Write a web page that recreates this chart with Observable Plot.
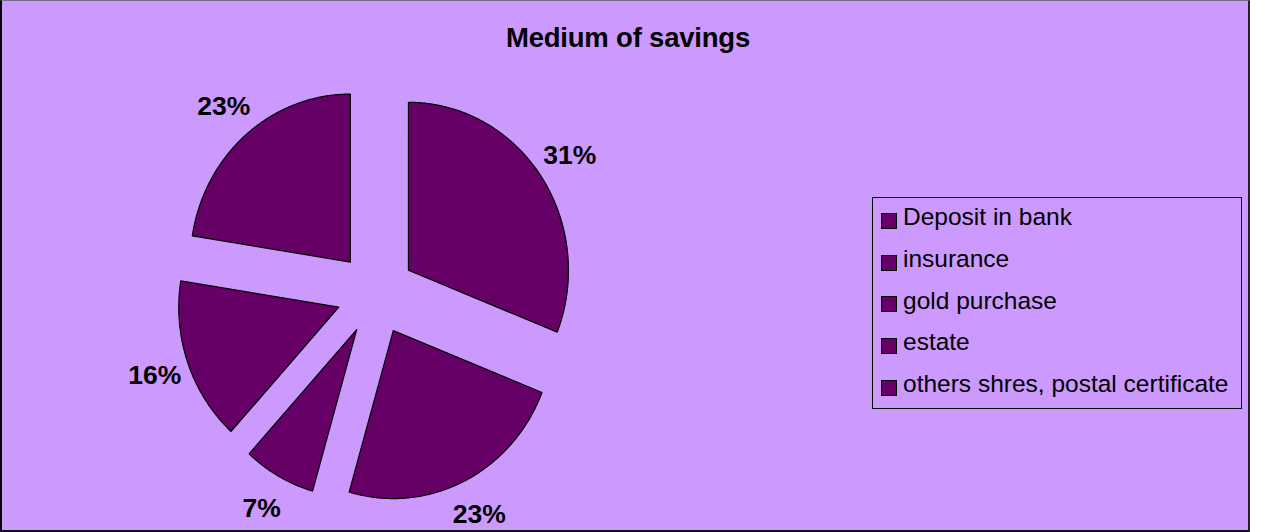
<!DOCTYPE html>
<html>
<head>
<meta charset="utf-8">
<script src="https://cdn.jsdelivr.net/npm/d3@7"></script>
<script src="https://cdn.jsdelivr.net/npm/@observablehq/plot@0.6"></script>
<style>
  html, body { margin: 0; padding: 0; background: #ffffff; }
  #wrap { position: absolute; left: 0; top: 0; width: 1250px; height: 532px; box-sizing: border-box;
          background: #CC99FF; border-top: 1px solid #7a6a88; border-left: 2px solid #000; border-right: 2px solid #222; border-bottom: 2px solid #111; }
  #chart { position: absolute; left: 0; top: 0; }
  #title { position: absolute; left: 0; top: 23.7px; width: 1256px; text-align: center;
           font: bold 27.5px/1 "Liberation Sans", Arial, sans-serif; letter-spacing: -0.2px; color: #000; }
  #legend { position: absolute; left: 872px; top: 197px; width: 370px; height: 212px; box-sizing: border-box;
            border: 1px solid #000; }
  .sw { position: absolute; left: 8px; width: 16px; height: 16px; box-sizing: border-box; background: #660066; border: 1px solid #000; }
  .lt { position: absolute; left: 30px; font: 24.5px/1 "Liberation Sans", Arial, sans-serif; color: #000; white-space: nowrap; }
</style>
</head>
<body>
<div id="wrap"></div>
<div id="chart"></div>
<div id="title">Medium of savings</div>
<div id="legend"></div>
<script>
// ---- data (shares; labels as printed) ----
const categories = ["Deposit in bank", "insurance", "gold purchase", "estate", "others shres, postal certificate"];
const values = [31, 23.45, 7.3, 15.75, 22.5];
const pctLabels = ["31%", "23%", "7%", "16%", "23%"];

// ---- layout of the pie (pixels) ----
const W = 1250, H = 532;
const cx = 375.4, cy = 293, RX = 160, RY = 168;
const explode = 0.246, labelR = 1.465;

const arcs = d3.pie().sort(null).value(d => d)(values);
const poly = [];
const labelRows = [];
arcs.forEach((a, i) => {
  const mid = (a.startAngle + a.endAngle) / 2;
  const ox = Math.sin(mid) * explode, oy = Math.cos(mid) * explode;
  const cat = categories[i];
  poly.push({cat, x: ox, y: oy});
  const n = Math.max(2, Math.ceil((a.endAngle - a.startAngle) / (Math.PI / 360)));
  for (let k = 0; k <= n; k++) {
    const t = a.startAngle + (a.endAngle - a.startAngle) * k / n;
    poly.push({cat, x: ox + Math.sin(t), y: oy + Math.cos(t)});
  }
  poly.push({cat, x: ox, y: oy});
  labelRows.push({label: pctLabels[i], x: Math.sin(mid) * labelR, y: Math.cos(mid) * labelR});
});

const chart = Plot.plot({
  width: W, height: H,
  margin: 0,
  style: {background: "transparent", overflow: "visible"},
  x: {domain: [-cx / RX, (W - cx) / RX], axis: null},
  y: {domain: [(cy - H) / RY, cy / RY], axis: null},
  marks: [
    Plot.line(poly, {x: "x", y: "y", z: "cat", fill: "#660066", stroke: "#000", strokeWidth: 1.2, strokeLinejoin: "miter"}),
    Plot.text(labelRows, {x: "x", y: "y", text: "label", fontSize: 26.5, fontWeight: "bold",
      fontFamily: "Liberation Sans, Arial, sans-serif", fill: "#000", textAnchor: "middle", lineAnchor: "middle"})
  ]
});
document.getElementById("chart").appendChild(chart);

// ---- legend ----
const lg = document.getElementById("legend");
categories.forEach((c, i) => {
  const sw = document.createElement("div");
  sw.className = "sw";
  sw.style.top = (15 + 41.7 * i) + "px";
  lg.appendChild(sw);
  const t = document.createElement("div");
  t.className = "lt";
  t.style.top = (7.3 + 41.6 * i) + "px";
  t.textContent = c;
  lg.appendChild(t);
});
</script>
</body>
</html>
